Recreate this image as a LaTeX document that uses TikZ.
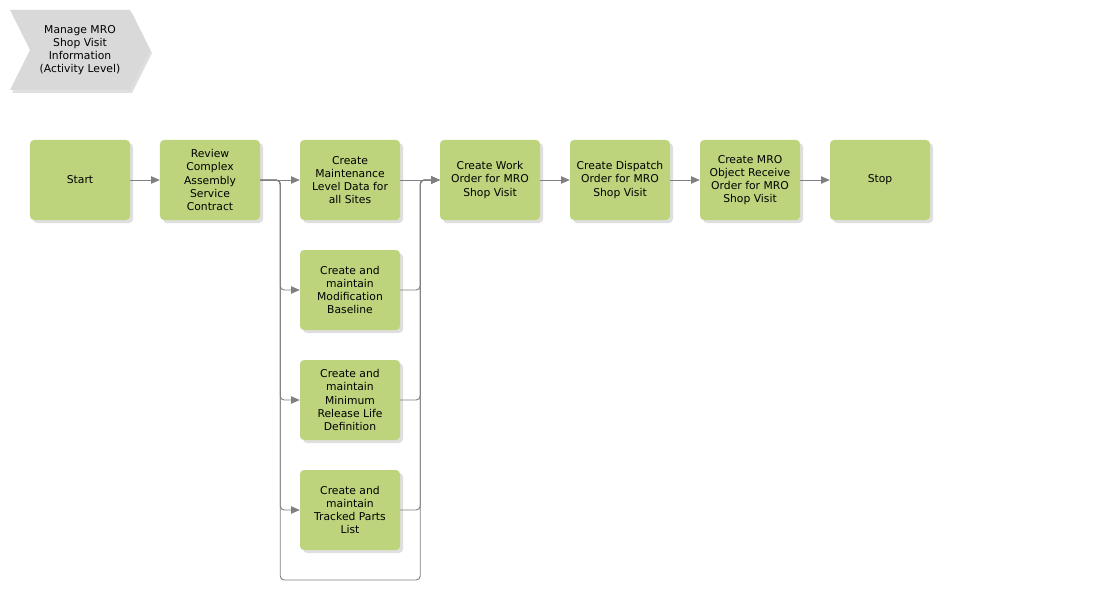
\documentclass[tikz,border=0pt]{standalone}
\usepackage{fontspec}
\setmainfont{DejaVu Sans}
\usetikzlibrary{arrows.meta, positioning, shadows}
\definecolor{taskgreen}{RGB}{189,212,125}
\definecolor{linegray}{RGB}{128,128,128}
\definecolor{procgray}{RGB}{217,217,217}

\begin{document}
\begin{tikzpicture}[x=0.03cm, y=-0.03cm,
    task/.style={fill=taskgreen, rounded corners=1.2mm, minimum width=3cm, minimum height=2.4cm,
        inner sep=2pt, align=center, font=\fontsize{9.2}{11.3}\selectfont,
        drop shadow={shadow xshift=0.9mm, shadow yshift=-0.9mm, fill=black!25, opacity=0.5}},
    flow/.style={draw=linegray, line width=0.8pt, -{Triangle[length=2.6mm,width=2.2mm]}, rounded corners=1.2mm}]
    \useasboundingbox (0,0) rectangle (1115,590);

    % Process chevron
    \fill[procgray, drop shadow={shadow xshift=0.6mm, shadow yshift=-0.9mm, fill=black!25, opacity=0.5}]
        (10,10) -- (130,10) -- (150,50) -- (130,90) -- (10,90) -- (30,50) -- cycle;
    \node[align=center, font=\fontsize{9.2}{11.3}\selectfont] (proc) at (80,50)
        {Manage MRO\\Shop Visit\\Information\\(Activity Level)};

    % Main row
    \node[task] (start)    at (80,180)  {Start};
    \node[task] (review)   at (210,180) {Review\\Complex\\Assembly\\Service\\Contract};
    \node[task] (maint)    at (350,180) {Create\\Maintenance\\Level Data for\\all Sites};
    \node[task] (work)     at (490,180) {Create Work\\Order for MRO\\Shop Visit};
    \node[task] (dispatch) at (620,180) {Create Dispatch\\Order for MRO\\Shop Visit};
    \node[task] (receive)  at (750,180) {Create MRO\\Object Receive\\Order for MRO\\Shop Visit};
    \node[task] (stop)     at (880,180) {Stop};

    % Parallel column
    \node[task] (modif)   at (350,290) {Create and\\maintain\\Modification\\Baseline};
    \node[task] (minim)   at (350,400) {Create and\\maintain\\Minimum\\Release Life\\Definition};
    \node[task] (tracked) at (350,510) {Create and\\maintain\\Tracked Parts\\List};

    % Connectors
    \draw[flow] (start) -- (review);
    \draw[flow] (review) -- (maint);
    \draw[flow] (review.east) -- ++(20,0) |- (modif.west);
    \draw[flow] (review.east) -- ++(20,0) |- (minim.west);
    \draw[flow] (review.east) -- ++(20,0) |- (tracked.west);
    \draw[flow] (review.east) -- ++(20,0) -- ++(0,400) -- ++(140,0) |- (work.west);
    \draw[flow] (maint) -- (work);
    \draw[flow] (modif.east) -- ++(20,0) |- (work.west);
    \draw[flow] (minim.east) -- ++(20,0) |- (work.west);
    \draw[flow] (tracked.east) -- ++(20,0) |- (work.west);
    \draw[flow] (work) -- (dispatch);
    \draw[flow] (dispatch) -- (receive);
    \draw[flow] (receive) -- (stop);
\end{tikzpicture}
\end{document}
